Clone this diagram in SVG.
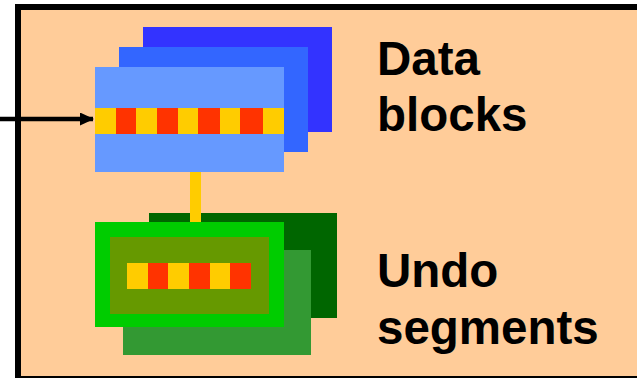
<svg xmlns="http://www.w3.org/2000/svg" width="637" height="378" viewBox="0 0 637 378">
  <style>
    .lbl { font-family: "Liberation Sans", Arial, sans-serif; font-weight: bold; font-size: 47.5px; fill: #000; }
    .y { fill: #FFCC00; }
    .r { fill: #FF3300; }
  </style>
  <defs>
    <marker id="arr" markerWidth="14" markerHeight="13" refX="13" refY="6.5" orient="auto" markerUnits="userSpaceOnUse">
      <path d="M0,0 L14,6.5 L0,13 z" fill="#000"/>
    </marker>
  </defs>
  <rect x="0" y="0" width="637" height="378" fill="#fff"/>
  <g id="frame">
    <rect x="18" y="7" width="640" height="372" fill="#FFCC99" stroke="#000" stroke-width="6"/>
  </g>
  <g id="data-blocks">
    <rect x="143" y="27" width="189" height="105" fill="#3333FF"/>
    <rect x="119" y="47" width="189" height="105" fill="#3366FF"/>
    <rect x="95" y="67" width="189" height="105" fill="#6699FF"/>
    <rect class="y" x="95" y="108" width="189" height="26"/>
    <rect class="r" x="116" y="108" width="20" height="26"/>
    <rect class="r" x="157" y="108" width="21" height="26"/>
    <rect class="r" x="198" y="108" width="22" height="26"/>
    <rect class="r" x="240" y="108" width="23" height="26"/>
  </g>
  <g id="undo-segments">
    <rect x="149" y="213" width="188" height="105" fill="#006600"/>
    <rect x="123" y="250" width="188" height="105" fill="#339933"/>
    <rect x="95" y="222" width="189" height="105" fill="#00CC00"/>
    <rect x="110" y="237" width="159" height="77" fill="#669900"/>
    <rect class="y" x="127" y="263" width="124" height="26"/>
    <rect class="r" x="148" y="263" width="20" height="26"/>
    <rect class="r" x="189" y="263" width="21" height="26"/>
    <rect class="r" x="230" y="263" width="21" height="26"/>
  </g>
  <g id="connectors">
    <rect x="190" y="172" width="11" height="50" fill="#FFCC00"/>
    <line x1="0" y1="119" x2="93" y2="119" stroke="#000" stroke-width="4.5" marker-end="url(#arr)"/>
  </g>
  <g id="labels">
    <text class="lbl" x="377" y="75">Data</text>
    <text class="lbl" x="377" y="131">blocks</text>
    <text class="lbl" x="377" y="287">Undo</text>
    <text class="lbl" x="377" y="344">segments</text>
  </g>
</svg>
